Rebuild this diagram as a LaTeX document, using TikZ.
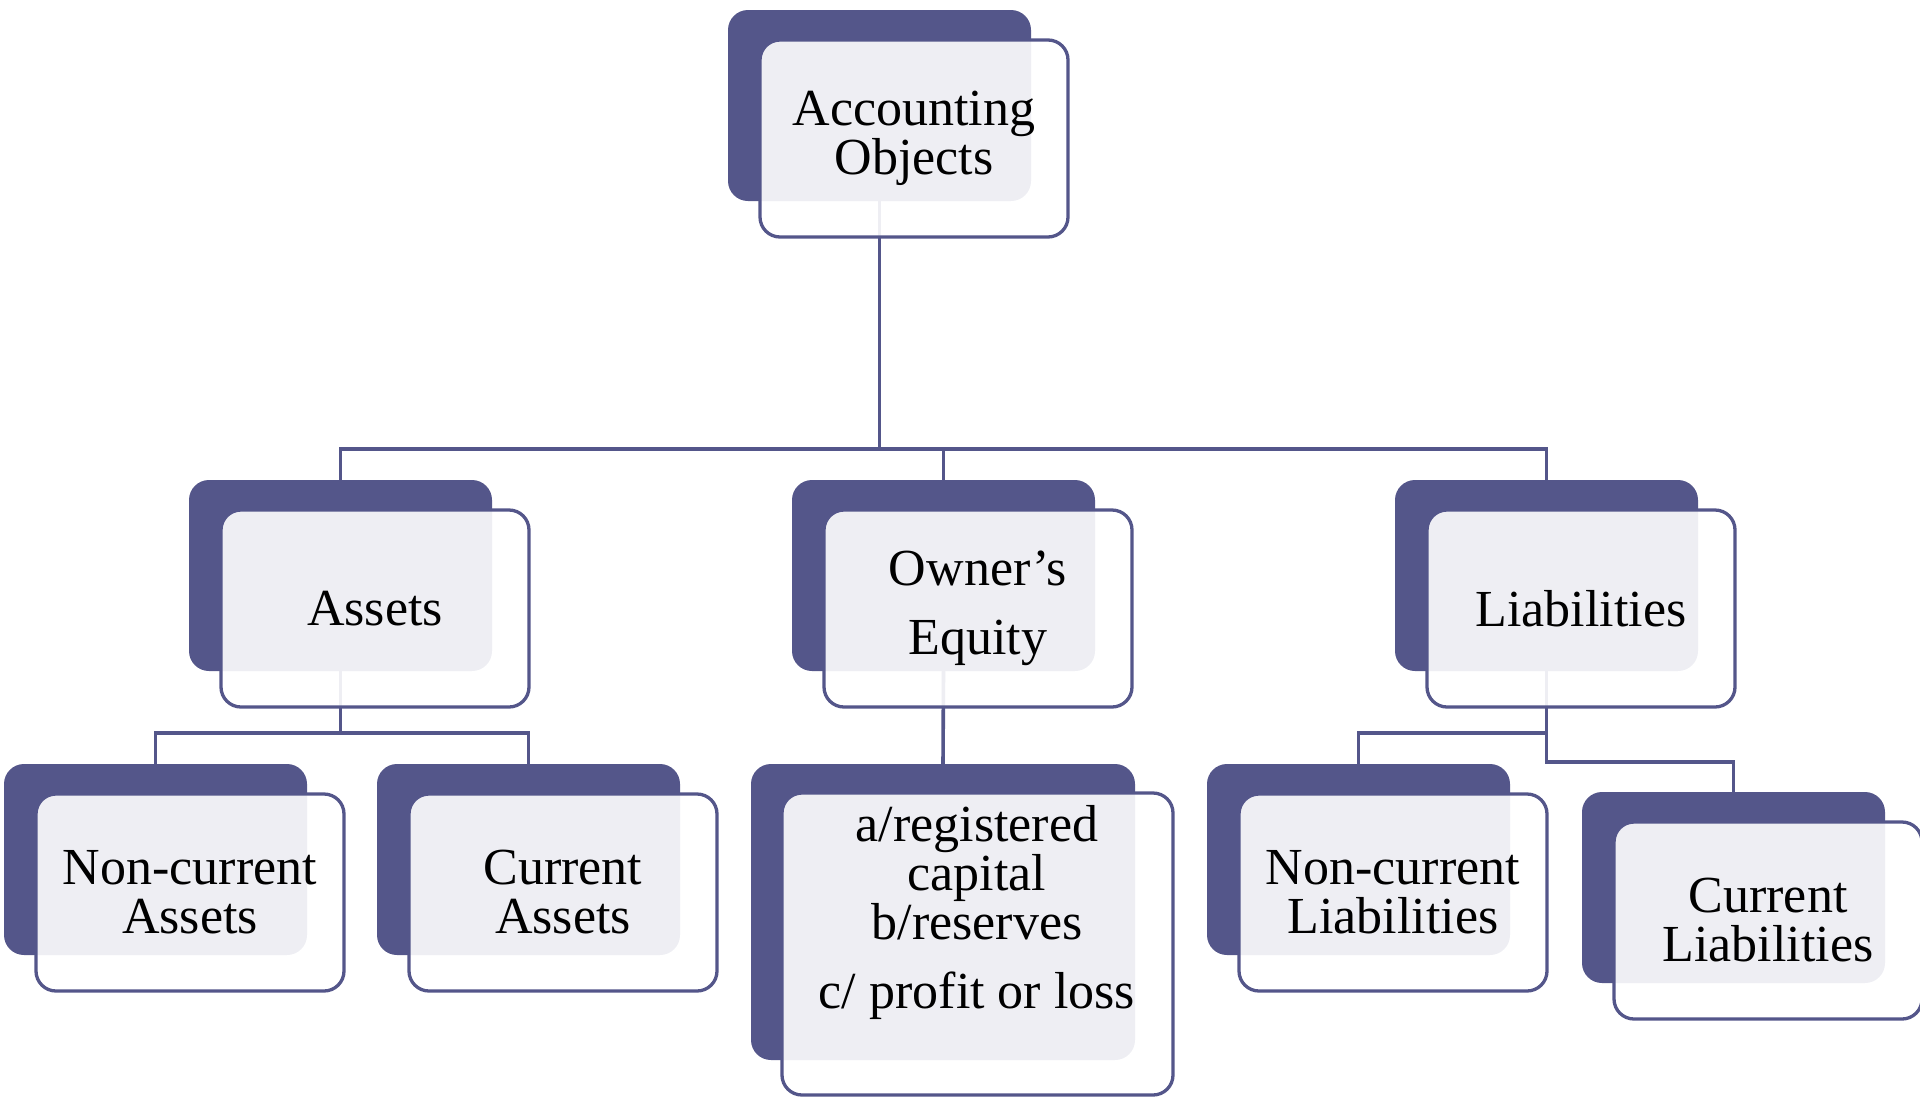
\documentclass[tikz,border=0pt]{standalone}
\usepackage{fontspec}
\setmainfont{Liberation Serif}
\usetikzlibrary{backgrounds}

\definecolor{navy}{HTML}{54568A}

\tikzset{
  back/.style={fill=navy, draw=none, rounded corners=20pt, inner sep=0pt, outer sep=0pt},
  front/.style={fill=white, fill opacity=0.9, text opacity=1, draw=navy, line width=3.3pt,
    rounded corners=20pt, inner sep=0pt, outer sep=0pt, align=center,
    font=\fontsize{52}{49}\selectfont},
  boxtext/.style={inner sep=0pt, align=center, font=\fontsize{52}{49}\selectfont},
  conn/.style={draw=navy, line width=3.6pt, line join=miter}
}

% A two-layer box: dark plate behind, translucent outlined card in front.
% #1 name, #2/#3 top-left corner of the plate, #4 text
\newcommand\orgbox[4]{%
  \node[back, minimum width=303pt, minimum height=191pt] (#1-back) at (#2+151.5, #3+95.5) {};
  \node[front, minimum width=308pt, minimum height=197pt] (#1) at (#2+186, #3+128.5) {#4};
}

\begin{document}
\begin{tikzpicture}[x=1pt, y=-1pt]
  \useasboundingbox (0,0) rectangle (1920,1096);

  \orgbox{top}{728}{10}{Accounting\\Objects}
  \orgbox{assets}{189}{480}{Assets}
  \orgbox{equity}{792}{480}{Owner’s\\[20pt]Equity}
  \orgbox{liab}{1395}{480}{Liabilities}
  \orgbox{ncassets}{4}{764}{Non-current\\Assets}
  \orgbox{cassets}{377}{764}{Current\\Assets}
  \orgbox{ncliab}{1207}{764}{Non-current\\Liabilities}
  \orgbox{cliab}{1582}{792}{Current\\Liabilities}

  % equity components (taller box)
  \node[back, minimum width=384pt, minimum height=296pt] (eqlist-back) at (943, 912) {};
  \node[front, minimum width=391pt, minimum height=302pt] (eqlist) at (977.5, 944) {};
  \node[boxtext] (eqlist-text) at (977, 912)
    {a/registered\\capital\\b/reserves\\[20pt]c/ profit or loss};

  % connectors, drawn behind the cards
  \begin{scope}[on background layer]
    \draw[conn] (top-back.south) -- ++(0,248) coordinate (hub);
    \draw[conn] (assets-back.north) |- (liab-back.north |- hub) -- (liab-back.north);
    \draw[conn] (equity-back.north) -- (equity-back.north |- hub);

    \path (assets-back.south) ++(0,62) coordinate (ahub);
    \draw[conn] (assets-back.south) -- (ahub);
    \draw[conn] (ncassets-back.north) |- (cassets-back.north |- ahub) -- (cassets-back.north);

    \draw[conn] (equity-back.south) -- (eqlist-back.north);

    \path (liab-back.south) ++(0,62) coordinate (lhub);
    \path (liab-back.south) ++(0,91) coordinate (lhub2);
    \draw[conn] (ncliab-back.north) |- (lhub);
    \draw[conn] (liab-back.south) -- (lhub2) -| (cliab-back.north);
  \end{scope}
\end{tikzpicture}
\end{document}
